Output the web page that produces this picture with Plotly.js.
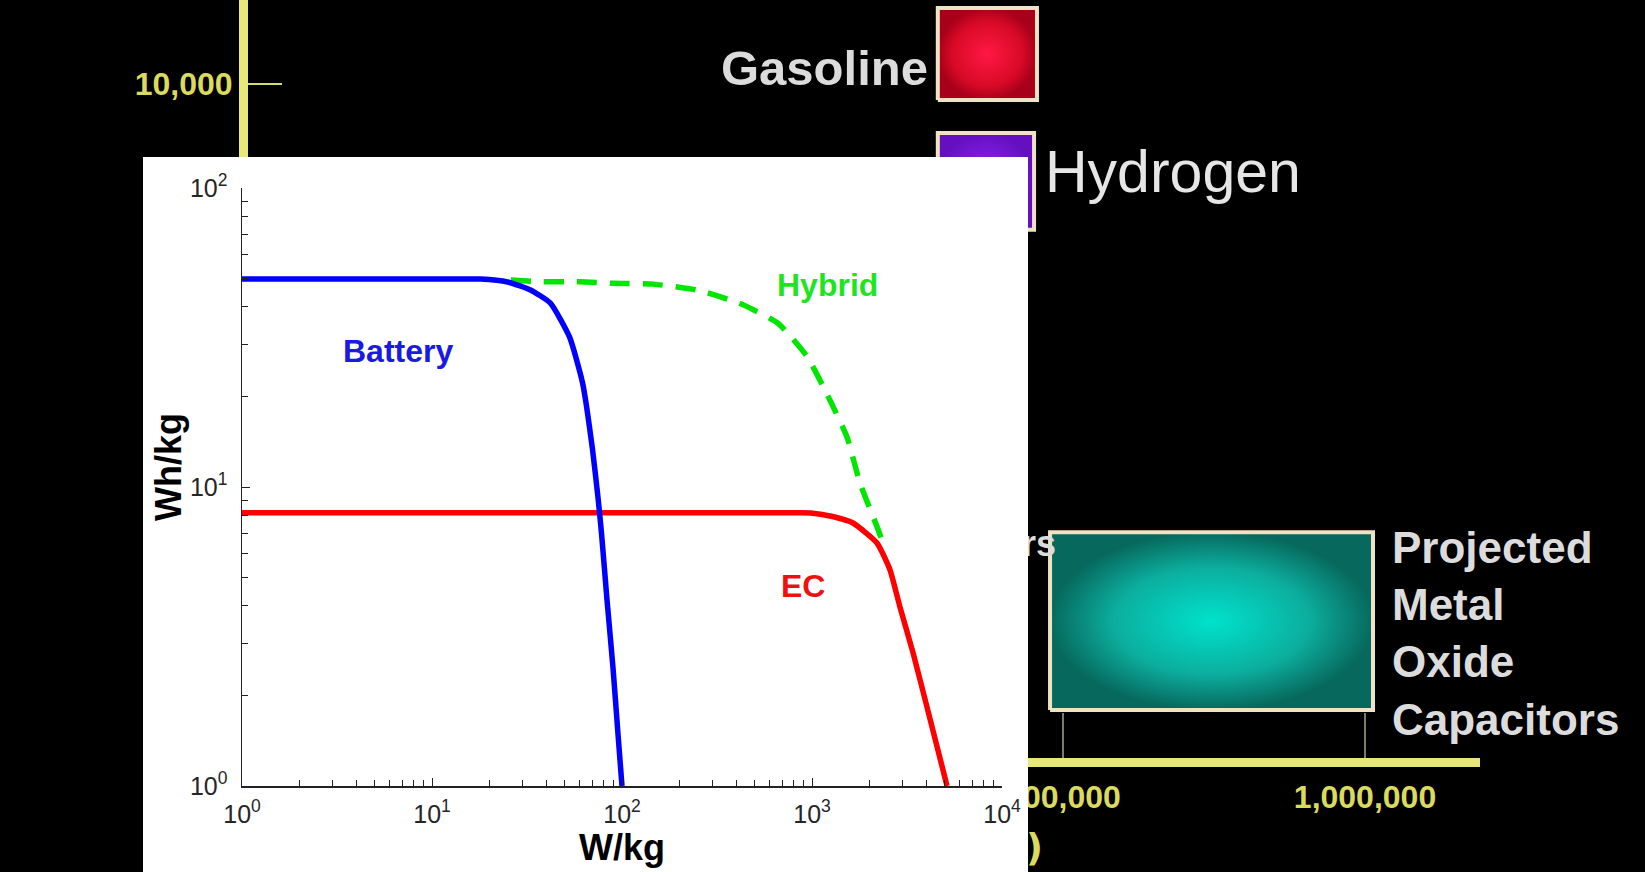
<!DOCTYPE html>
<html>
<head>
<meta charset="utf-8">
<script src="https://cdn.plot.ly/plotly-3.0.1.min.js"></script>
<style>
  html, body { margin: 0; padding: 0; background: #000; }
  #chart { width: 1645px; height: 872px; }
</style>
</head>
<body>
<div id="chart"></div>
<script>
// ---------- Inset chart (Ragone-style curves, W/kg vs Wh/kg) ----------
const batteryPower  = [1, 10, 18, 25, 33, 42, 53, 62, 70, 75, 78, 83.4, 89.6, 95.2, 100];
const batteryEnergy = [49.6, 49.6, 49.6, 48.5, 45.6, 41.2, 31.7, 22.3, 13.3, 9.05, 7.0, 4.19, 2.5, 1.5, 1.0];

const ecPower  = [1, 100, 400, 800, 988, 1300, 1643, 2198, 2574, 2904, 3402, 4028, 5137];
const ecEnergy = [8.2, 8.2, 8.2, 8.2, 8.19, 7.95, 7.58, 6.5, 5.28, 3.97, 2.79, 1.84, 1.0];

const hybridPower  = [26, 37, 60, 90, 146, 248, 418, 662, 942, 1244, 1528, 1790, 2198, 2364];
const hybridEnergy = [49.2, 48.6, 48.6, 48.0, 47.7, 45.6, 41.1, 35.3, 27.3, 19.5, 14.7, 10.3, 7.37, 6.5];

const insetXTicks  = [1, 10, 100, 1000, 10000];
const insetXLabels = ['10<sup>0</sup>', '10<sup>1</sup>', '10<sup>2</sup>', '10<sup>3</sup>', '10<sup>4</sup>'];
const insetYTicks  = [1, 10, 100];
const insetYLabels = ['10<sup>0</sup>', '10<sup>1</sup>', '10<sup>2</sup>'];

const curveLabels = ['Battery', 'Hybrid', 'EC'];
const curveLabelPower  = [6.6, 1200, 900];
const curveLabelEnergy = [28.5, 47.4, 4.67];

// ---------- Background chart (specific energy vs specific power) ----------
const gasolinePower   = [38500, 82000];
const gasolineEnergy  = [8850, 17850];
const hydrogenPower   = [38500, 80200];
const hydrogenEnergy  = [3290, 6880];
const capacitorPower  = [90600, 1063000];
const capacitorEnergy = [84.6, 328];

const bgPowerTicks   = [100000, 1000000];
const bgPowerLabels  = ['100,000', '1,000,000'];
const bgEnergyTicks  = [10000];
const bgEnergyLabels = ['10,000'];

// label anchors of the background chart (data units of the background axes)
const bgEnergyTitle = { text: 'Specific<br>Energy<br>(Wh/kg)', x: 33.9, y: 1580 };
const bgPowerTitle  = { text: 'Specific Power (W/kg)', x: 85870, y: 28.6 };
const bgCapLabel    = { text: 'Capacitors', x: 94800, y: 293 };

// ---------- helpers ----------
function minorTicks(decades) {
  const out = [];
  for (let d = 0; d < decades; d++) for (let k = 2; k <= 9; k++) out.push(k * Math.pow(10, d));
  return out;
}
function boxTrace(p, e, scale) {
  return {
    type: 'scatter', mode: 'lines', xaxis: 'x', yaxis: 'y',
    x: [p[0], p[1], p[1], p[0], p[0]],
    y: [e[0], e[0], e[1], e[1], e[0]],
    fill: 'toself',
    fillgradient: { type: 'radial', colorscale: scale },
    line: { color: '#efe3c4', width: 4 },
    hoverinfo: 'skip'
  };
}

const W = 1645, H = 872;
const yellowLine = '#e8e878';
const yellowText = '#dada5c';
const lightText  = '#dcdcdc';

const traces = [
  // background boxes
  boxTrace(gasolinePower, gasolineEnergy, [[0, '#ff1844'], [0.7, '#d80a26'], [1, '#a8001a']]),
  boxTrace(hydrogenPower, hydrogenEnergy, [[0, '#9426ff'], [1, '#6410c0']]),
  boxTrace(capacitorPower, capacitorEnergy, [[0, '#00e2cc'], [0.6, '#0cae9e'], [1, '#07695e']]),
  // background texts (hidden in part by the inset)
  {
    type: 'scatter', mode: 'text', xaxis: 'x', yaxis: 'y', cliponaxis: false,
    x: [bgEnergyTitle.x], y: [bgEnergyTitle.y], text: [bgEnergyTitle.text],
    textposition: 'middle right',
    textfont: { family: 'DejaVu Sans', size: 37, color: yellowText, weight: 700 },
    hoverinfo: 'skip'
  },
  {
    type: 'scatter', mode: 'text', xaxis: 'x', yaxis: 'y', cliponaxis: false,
    x: [bgPowerTitle.x], y: [bgPowerTitle.y], text: [bgPowerTitle.text],
    textposition: 'middle left',
    textfont: { family: 'DejaVu Sans', size: 37, color: yellowText, weight: 700 },
    hoverinfo: 'skip'
  },
  {
    type: 'scatter', mode: 'text', xaxis: 'x', yaxis: 'y', cliponaxis: false,
    x: [bgCapLabel.x], y: [bgCapLabel.y], text: [bgCapLabel.text],
    textposition: 'middle left',
    textfont: { family: 'Liberation Sans', size: 36, color: lightText, weight: 700 },
    hoverinfo: 'skip'
  },
  // white inset panel subplot (carrier trace)
  {
    type: 'scatter', mode: 'markers', xaxis: 'x2', yaxis: 'y2',
    x: [0.5], y: [0.5], marker: { opacity: 0 }, hoverinfo: 'skip'
  },
  // inset curves
  {
    type: 'scatter', mode: 'lines', xaxis: 'x3', yaxis: 'y3', name: 'EC',
    x: ecPower, y: ecEnergy, line: { color: '#ff0000', width: 5.5, shape: 'spline', smoothing: 0.5 }
  },
  {
    type: 'scatter', mode: 'lines', xaxis: 'x3', yaxis: 'y3', name: 'Hybrid',
    x: hybridPower, y: hybridEnergy, line: { color: '#00e600', width: 5.5, dash: '20px,13px', shape: 'spline', smoothing: 0.5 }
  },
  {
    type: 'scatter', mode: 'lines', xaxis: 'x3', yaxis: 'y3', name: 'Battery',
    x: batteryPower, y: batteryEnergy, line: { color: '#0000ff', width: 5.5, shape: 'spline', smoothing: 0.5 }
  }
];

const labelColors = ['#1a1ae6', '#1ee61e', '#ee1111'];
const annotations = curveLabels.map((t, i) => ({
  xref: 'x3', yref: 'y3',
  x: Math.log10(curveLabelPower[i]), y: Math.log10(curveLabelEnergy[i]),
  xanchor: 'center', yanchor: 'middle',
  text: t, showarrow: false,
  font: { family: 'Liberation Sans, Arial', size: 32, color: labelColors[i], weight: 700 }
}));
annotations.push(
  { xref: 'paper', yref: 'paper', x: 168 / W, y: 1 - 467 / H, xanchor: 'center', yanchor: 'middle',
    text: 'Wh/kg', textangle: -90, showarrow: false,
    font: { family: 'Liberation Sans, Arial', size: 36, color: '#000', weight: 700 } },
  { xref: 'paper', yref: 'paper', x: 824 / W, y: 1 - 68 / H, xanchor: 'center', yanchor: 'middle',
    text: 'Gasoline', showarrow: false,
    font: { family: 'Liberation Sans, Arial', size: 49, color: lightText, weight: 700 } },
  { xref: 'paper', yref: 'paper', x: 1173 / W, y: 1 - 172 / H, xanchor: 'center', yanchor: 'middle',
    text: 'Hydrogen', showarrow: false,
    font: { family: 'Liberation Sans, Arial', size: 59, color: '#e6e6e6', weight: 400 } },
  { xref: 'paper', yref: 'paper', x: 1390 / W, y: 1 - 633 / H, xanchor: 'left', yanchor: 'middle', align: 'left',
    text: 'Projected<br>Metal<br>Oxide<br>Capacitors', showarrow: false,
    font: { family: 'Liberation Sans, Arial', size: 44, color: lightText, weight: 700 } }
);

const insetTickFont = { family: 'Liberation Sans, Arial', size: 25, color: '#262626' };

const layout = {
  width: W, height: H,
  margin: { l: 0, r: 0, t: 0, b: 0 },
  paper_bgcolor: '#000000',
  plot_bgcolor: 'rgba(0,0,0,0)',
  showlegend: false,
  // background chart axes
  xaxis: {
    type: 'log', domain: [248 / W, 1480 / W], range: [2.3013, 6.3808],
    anchor: 'free', position: 110 / H,
    showline: true, linecolor: yellowLine, linewidth: 9,
    ticks: 'inside', ticklen: 45, tickwidth: 2, tickcolor: '#7c7c66',
    tickmode: 'array', tickvals: bgPowerTicks, ticktext: bgPowerLabels,
    tickfont: { family: 'Liberation Sans, Arial', size: 32, color: yellowText, weight: 700 },
    ticklabelstandoff: 3,
    showgrid: false, zeroline: false, fixedrange: true
  },
  yaxis: {
    type: 'log', domain: [0, 1], range: [1.3907, 4.2781], anchor: 'x',
    showline: true, linecolor: yellowLine, linewidth: 9,
    ticks: 'inside', ticklen: 34, tickwidth: 2, tickcolor: '#d8d870',
    tickmode: 'array', tickvals: bgEnergyTicks, ticktext: bgEnergyLabels,
    tickfont: { family: 'Liberation Sans, Arial', size: 32, color: yellowText, weight: 700 },
    showgrid: false, zeroline: false, fixedrange: true
  },
  // white panel of the inset
  xaxis2: { domain: [143 / W, 1028 / W], range: [0, 1], anchor: 'y2', visible: false, fixedrange: true },
  yaxis2: { domain: [0, (H - 157) / H], range: [0, 1], anchor: 'x2', visible: false, fixedrange: true },
  // inset chart axes
  xaxis3: {
    type: 'log', domain: [242 / W, 1002 / W], range: [0, 4], anchor: 'y3',
    showline: true, linecolor: '#222', linewidth: 1.5, mirror: false,
    ticks: 'inside', ticklen: 8, tickwidth: 1, tickcolor: '#222',
    tickmode: 'array', tickvals: insetXTicks, ticktext: insetXLabels,
    tickfont: insetTickFont, ticklabelstandoff: 5,
    minor: { tickmode: 'array', tickvals: minorTicks(4), ticks: 'inside', ticklen: 6, tickwidth: 1, tickcolor: '#222', showgrid: false },
    showgrid: false, zeroline: false, fixedrange: true,
    title: { text: 'W/kg', standoff: 6, font: { family: 'Liberation Sans, Arial', size: 36, color: '#000', weight: 700 } }
  },
  yaxis3: {
    type: 'log', domain: [86 / H, 684 / H], range: [0, 2], anchor: 'x3',
    showline: true, linecolor: '#222', linewidth: 1.5, mirror: false,
    ticks: 'inside', ticklen: 8, tickwidth: 1, tickcolor: '#222',
    tickmode: 'array', tickvals: insetYTicks, ticktext: insetYLabels,
    tickfont: insetTickFont, ticklabelstandoff: 8,
    minor: { tickmode: 'array', tickvals: minorTicks(2), ticks: 'inside', ticklen: 6, tickwidth: 1, tickcolor: '#222', showgrid: false },
    showgrid: false, zeroline: false, fixedrange: true
  },
  shapes: [
    { type: 'rect', xref: 'x2', yref: 'y2', x0: 0, x1: 1, y0: 0, y1: 1,
      fillcolor: '#ffffff', line: { width: 0 }, layer: 'below' }
  ],
  annotations: annotations
};

Plotly.newPlot('chart', traces, layout, { staticPlot: true, displayModeBar: false });
</script>
</body>
</html>
